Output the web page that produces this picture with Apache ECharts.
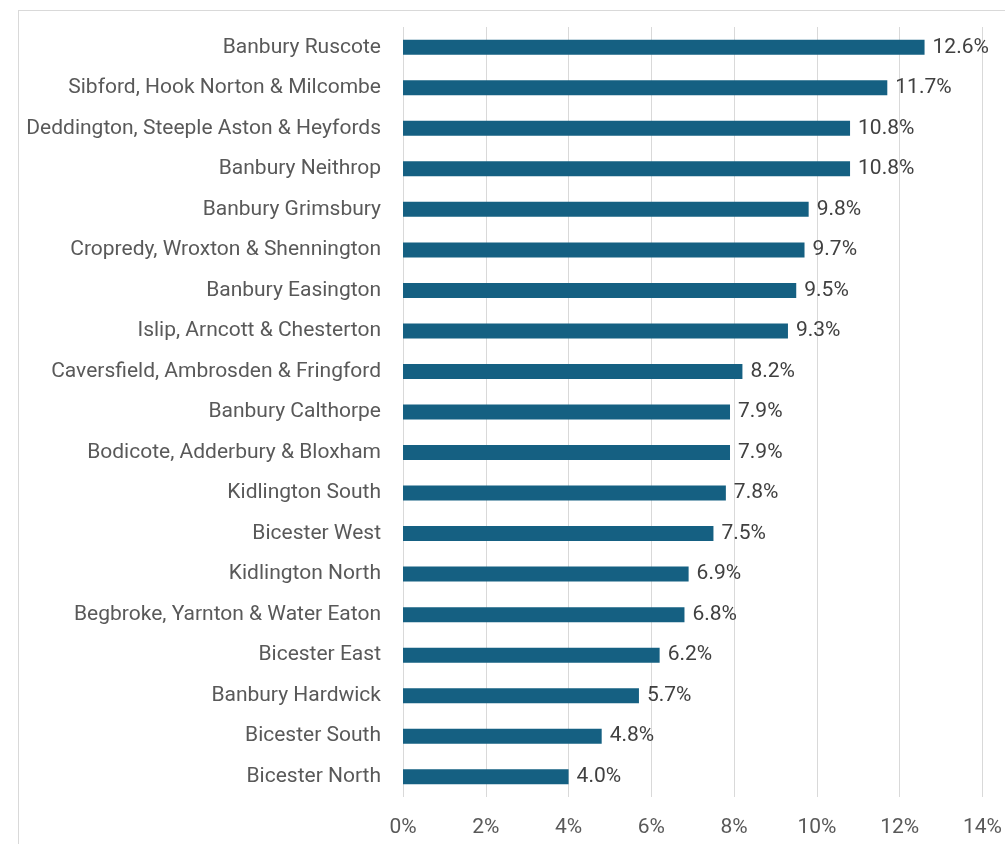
<!DOCTYPE html>
<html>
<head>
<meta charset="utf-8">
<script src="https://cdn.jsdelivr.net/npm/echarts@6/dist/echarts.min.js"></script>
<style>
  html, body { margin: 0; padding: 0; background: #fff; }
  .frame {
    position: absolute; left: 18px; top: 10px; width: 1000px; height: 850px;
    border-left: 1px solid #d9d9d9; border-top: 1px solid #d9d9d9;
  }
  #chart { position: absolute; left: 0; top: 0; width: 1005px; height: 844px; }
</style>
</head>
<body>
<div class="frame"></div>
<div id="chart"></div>
<script>
// top to bottom, as in the picture
const wards = [
  'Banbury Ruscote',
  'Sibford, Hook Norton & Milcombe',
  'Deddington, Steeple Aston & Heyfords',
  'Banbury Neithrop',
  'Banbury Grimsbury',
  'Cropredy, Wroxton & Shennington',
  'Banbury Easington',
  'Islip, Arncott & Chesterton',
  'Caversfield, Ambrosden & Fringford',
  'Banbury Calthorpe',
  'Bodicote, Adderbury & Bloxham',
  'Kidlington South',
  'Bicester West',
  'Kidlington North',
  'Begbroke, Yarnton & Water Eaton',
  'Bicester East',
  'Banbury Hardwick',
  'Bicester South',
  'Bicester North'
];
const shares = [12.6, 11.7, 10.8, 10.8, 9.8, 9.7, 9.5, 9.3, 8.2, 7.9, 7.9, 7.8, 7.5, 6.9, 6.8, 6.2, 5.7, 4.8, 4.0];

const font = 'Roboto, "Liberation Sans", sans-serif';

const chart = echarts.init(document.getElementById('chart'));
chart.setOption({
  animation: false,
  textStyle: { fontFamily: font },
  grid: { left: 403, right: 21, top: 27, bottom: 47, containLabel: false },
  xAxis: {
    type: 'value',
    min: 0,
    max: 14,
    interval: 2,
    axisLine: { show: false },
    axisTick: { show: false },
    axisLabel: {
      formatter: '{value}%',
      color: '#595959',
      fontSize: 21,
      margin: 20
    },
    splitLine: { lineStyle: { color: '#d9d9d9', width: 1 } }
  },
  yAxis: {
    type: 'category',
    data: wards,
    inverse: true,
    axisLine: { show: false },
    axisTick: { show: false },
    axisLabel: { color: '#595959', fontSize: 21, margin: 22 }
  },
  series: [{
    type: 'bar',
    data: shares,
    barWidth: 15,
    itemStyle: { color: '#156082' },
    label: {
      show: true,
      position: 'right',
      distance: 8,
      color: '#404040',
      fontSize: 21,
      formatter: p => p.value.toFixed(1) + '%'
    }
  }]
});
</script>
</body>
</html>
